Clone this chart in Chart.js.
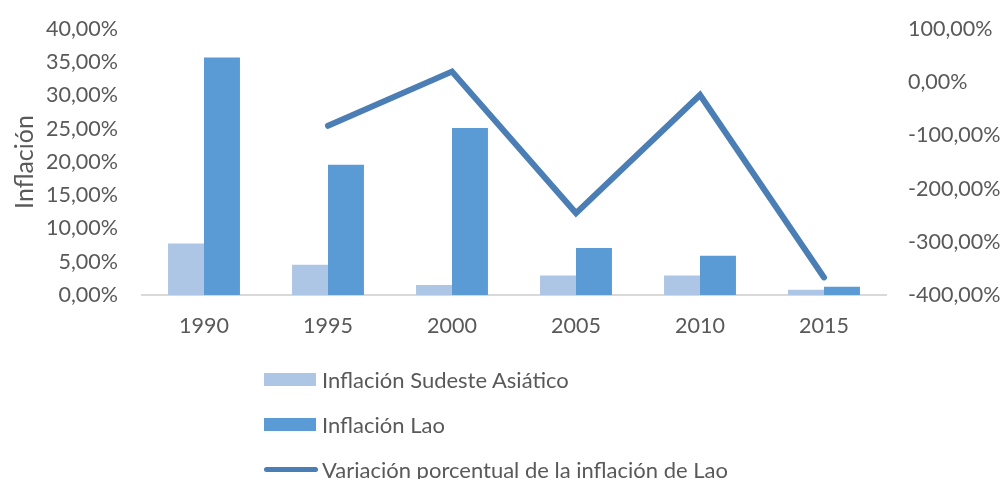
<!DOCTYPE html>
<html>
<head>
<meta charset="utf-8">
<script src="https://cdn.jsdelivr.net/npm/chart.js@4.4.0/dist/chart.umd.min.js"></script>
<style>
  html, body { margin: 0; padding: 0; background: #fff; }
  #wrap { position: relative; width: 1002px; height: 479px; }
  #legend { position: absolute; left: 264px; top: 357px; font-family: Lato, sans-serif; font-size: 22px; color: #595959; }
  .item { display: flex; align-items: center; height: 45px; white-space: nowrap; }
  .swatch { width: 52px; height: 13px; margin-right: 6px; }
  .swatch.line { width: 54px; height: 5px; border-radius: 3px; margin-right: 4px; }
</style>
</head>
<body>
<div id="wrap">
  <canvas id="myChart" width="1002" height="479"></canvas>
  <div id="legend"></div>
</div>
<script>
let labels = ['1990', '1995', '2000', '2005', '2010', '2015'];
let inflSudeste = [7.75, 4.55, 1.5, 2.95, 2.95, 0.8];
let inflLao = [35.7, 19.6, 25.1, 7.05, 5.9, 1.25];
let variacionLao = [null, -82, 20, -246, -24, -367];

let textColor = '#595959';
let font = { family: 'Lato', size: 21.5 };

let pct = (value) => value.toFixed(2).replace('.', ',') + '%';

// keep the tick label padding from pushing the plot area down
let fixVertical = (width) => (scale) => {
  scale.width = width;
  scale.paddingTop = 0;
  scale.paddingBottom = 0;
};

let ctx = document.getElementById('myChart').getContext('2d');

let myChart = new Chart(ctx, {
  type: 'bar',
  data: {
    labels: labels,
    datasets: [{
      type: 'line',
      label: 'Variación porcentual de la inflación de Lao',
      data: variacionLao,
      yAxisID: 'y1',
      borderColor: '#4a7eb5',
      backgroundColor: '#4a7eb5',
      borderWidth: 6,
      borderCapStyle: 'round',
      borderJoinStyle: 'miter',
      pointRadius: 0,
      order: 0
    }, {
      label: 'Inflación Sudeste Asiático',
      data: inflSudeste,
      yAxisID: 'y',
      backgroundColor: '#adc6e5',
      categoryPercentage: 0.58,
      barPercentage: 1,
      order: 1
    }, {
      label: 'Inflación Lao',
      data: inflLao,
      yAxisID: 'y',
      backgroundColor: '#5b9bd5',
      categoryPercentage: 0.58,
      barPercentage: 1,
      order: 1
    }]
  },
  options: {
    responsive: false,
    animation: false,
    events: [],
    layout: { padding: { top: 29, bottom: 0, left: 0, right: 0 } },
    plugins: {
      legend: { display: false },
      tooltip: { enabled: false }
    },
    scales: {
      x: {
        grid: { display: false, drawTicks: false },
        border: { display: true, color: '#d9d9d9', width: 2 },
        ticks: { color: textColor, font: font, padding: 18 },
        afterFit: (scale) => { scale.height = 184; }
      },
      y: {
        position: 'left',
        min: 0,
        max: 40,
        grid: { display: false, drawTicks: false },
        border: { display: false },
        ticks: { stepSize: 5, color: textColor, font: font, padding: 24, callback: pct },
        title: {
          display: true,
          text: 'Inflación',
          color: textColor,
          font: { family: 'Lato', size: 25 },
          padding: { top: 10, bottom: 0 }
        },
        afterFit: fixVertical(142)
      },
      y1: {
        position: 'right',
        min: -400,
        max: 100,
        grid: { display: false, drawTicks: false },
        border: { display: false },
        ticks: { stepSize: 100, color: textColor, font: font, padding: 22, callback: pct },
        afterFit: fixVertical(116)
      }
    }
  }
});

// legend in the order of the reference, one item per row
let legendOrder = [1, 2, 0];
let legendBox = document.getElementById('legend');
legendOrder.forEach((i) => {
  let ds = myChart.data.datasets[i];
  let item = document.createElement('div');
  item.className = 'item';
  let sw = document.createElement('span');
  sw.className = ds.type === 'line' ? 'swatch line' : 'swatch';
  sw.style.background = ds.backgroundColor;
  let txt = document.createElement('span');
  txt.textContent = ds.label;
  item.appendChild(sw);
  item.appendChild(txt);
  legendBox.appendChild(item);
});
</script>
</body>
</html>
